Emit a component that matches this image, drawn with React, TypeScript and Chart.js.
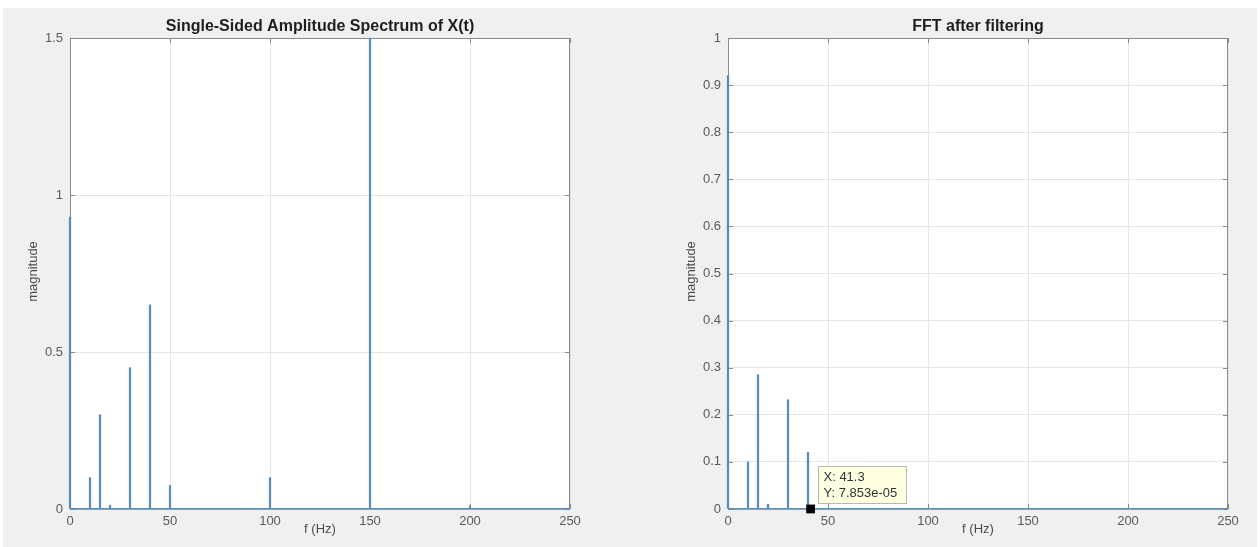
import React, { useEffect, useRef } from "react";
import { Chart, registerables } from "chart.js";

Chart.register(...registerables);

// Raw spectrum: spike frequencies (Hz) and single-sided magnitudes
const RAW_FREQ = [0, 10, 15, 20, 30, 40, 50, 100, 150, 200];
const RAW_MAG = [0.93, 0.1, 0.3, 0.012, 0.45, 0.65, 0.075, 0.1, 1.5, 0.01];

// Spectrum after the low-pass filter
const FILT_FREQ = [0, 10, 15, 20, 30, 40];
const FILT_MAG = [0.92, 0.1, 0.285, 0.01, 0.232, 0.12];

// Near-zero floor between the spikes
const FLOOR_FREQ = [0, 250];
const FLOOR_MAG = [0, 0];

// Data tip on the filtered spectrum
const TIP_X = 41.3;
const TIP_Y = 7.853e-5;

// Axis ticks
const FREQ_TICKS = [0, 50, 100, 150, 200, 250];
const RAW_MAG_TICKS = [0, 0.5, 1, 1.5];
const FILT_MAG_TICKS = [0, 0.1, 0.2, 0.3, 0.4, 0.5, 0.6, 0.7, 0.8, 0.9, 1];

const LINE_COLOR = "#5a8dba";
const FONT = "'Liberation Sans', Arial, Helvetica, sans-serif";

function fmtExp(v: number): string {
  const [m, e] = v.toExponential(3).split("e");
  const sign = e.startsWith("-") ? "-" : "+";
  const digits = e.replace(/^[+-]/, "").padStart(2, "0");
  return `${m}e${sign}${digits}`;
}

type PanelCfg = {
  title: string;
  freq: number[];
  mag: number[];
  yMax: number;
  yTicks: number[];
  yAxisWidth: number;
  padRight: number;
  tip?: { x: number; y: number };
};

function makeChart(canvas: HTMLCanvasElement, cfg: PanelCfg) {
  const framePlugin = {
    id: "frame",
    beforeDraw(chart: any) {
      const { ctx, chartArea: a } = chart;
      ctx.save();
      ctx.fillStyle = "#ffffff";
      ctx.fillRect(a.left, a.top, a.right - a.left, a.bottom - a.top);
      ctx.restore();
    },
    beforeDatasetsDraw(chart: any) {
      const { ctx, chartArea: a, scales } = chart;
      ctx.save();
      ctx.strokeStyle = "#8a8a8a";
      ctx.lineWidth = 1;
      ctx.strokeRect(a.left + 0.5, a.top + 0.5, a.right - a.left - 1, a.bottom - a.top - 1);
      const tl = 5;
      ctx.beginPath();
      FREQ_TICKS.forEach((t) => {
        const x = Math.round(scales.x.getPixelForValue(t)) + 0.5;
        ctx.moveTo(x, a.bottom);
        ctx.lineTo(x, a.bottom - tl);
        ctx.moveTo(x, a.top);
        ctx.lineTo(x, a.top + tl);
      });
      cfg.yTicks.forEach((t) => {
        const y = Math.round(scales.y.getPixelForValue(t)) + 0.5;
        ctx.moveTo(a.left, y);
        ctx.lineTo(a.left + tl, y);
        ctx.moveTo(a.right, y);
        ctx.lineTo(a.right - tl, y);
      });
      ctx.stroke();
      ctx.restore();
    },
    afterDraw(chart: any) {
      const { ctx, chartArea: a, scales } = chart;
      ctx.save();
      // titles
      ctx.fillStyle = "#1e1e1e";
      ctx.font = `bold 16px ${FONT}`;
      ctx.textAlign = "center";
      ctx.textBaseline = "middle";
      ctx.fillText(cfg.title, (a.left + a.right) / 2, 27);
      ctx.fillStyle = "#4a4a4a";
      ctx.font = `13px ${FONT}`;
      ctx.fillText("f (Hz)", (a.left + a.right) / 2, 529);
      ctx.translate(a.left - 37, (a.top + a.bottom) / 2 - 2);
      ctx.rotate(-Math.PI / 2);
      ctx.fillText("magnitude", 0, 0);
      ctx.restore();

      if (cfg.tip) {
        const px = scales.x.getPixelForValue(cfg.tip.x);
        const py = scales.y.getPixelForValue(cfg.tip.y);
        const bx = Math.round(px + 7) + 0.5;
        const by = Math.round(py - 43) + 0.5;
        const bw = 88;
        const bh = 37;
        ctx.save();
        ctx.fillStyle = "#ffffe1";
        ctx.strokeStyle = "#b9b9a8";
        ctx.lineWidth = 1;
        ctx.fillRect(bx, by, bw, bh);
        ctx.strokeRect(bx, by, bw, bh);
        ctx.fillStyle = "#333333";
        ctx.font = `13px ${FONT}`;
        ctx.textAlign = "left";
        ctx.textBaseline = "middle";
        ctx.fillText(`X: ${cfg.tip.x}`, bx + 5, by + 11);
        ctx.fillText(`Y: ${fmtExp(cfg.tip.y)}`, bx + 5, by + 27);
        ctx.restore();
      }
    },
  };

  const datasets: any[] = [
    {
      type: "line",
      data: FLOOR_FREQ.map((f, i) => ({ x: f, y: FLOOR_MAG[i] })),
      borderColor: LINE_COLOR,
      borderWidth: 1.5,
      pointRadius: 0,
      clip: false,
      order: 2,
    },
    {
      type: "bar",
      data: cfg.freq.map((f, i) => ({ x: f, y: cfg.mag[i] })),
      backgroundColor: LINE_COLOR,
      borderWidth: 0,
      barThickness: 1.6,
      clip: false,
      order: 1,
    },
  ];
  if (cfg.tip) {
    datasets.push({
      type: "scatter",
      data: [{ x: cfg.tip.x, y: cfg.tip.y }],
      pointStyle: "rect",
      pointRadius: 6.2,
      backgroundColor: "#000000",
      borderColor: "#000000",
      borderWidth: 0,
      clip: false,
      order: 0,
    });
  }

  return new Chart(canvas, {
    type: "bar",
    data: { datasets },
    options: {
      animation: false,
      responsive: false,
      devicePixelRatio: 1,
      events: [],
      layout: { padding: { left: 0, right: cfg.padRight, top: 38, bottom: 0 } },
      plugins: { legend: { display: false }, tooltip: { enabled: false }, title: { display: false } },
      scales: {
        x: {
          type: "linear",
          min: 0,
          max: 250,
          offset: false,
          afterFit: (s: any) => {
            s.height = 38;
          },
          afterBuildTicks: (s: any) => {
            s.ticks = FREQ_TICKS.map((v) => ({ value: v }));
          },
          grid: { color: "#e6e6e6", drawTicks: false, offset: false },
          border: { display: false },
          ticks: {
            padding: 5,
            color: "#5a5a5a",
            font: { family: FONT, size: 13 },
            maxRotation: 0,
          },
        },
        y: {
          type: "linear",
          min: 0,
          max: cfg.yMax,
          afterFit: (s: any) => {
            s.width = cfg.yAxisWidth;
          },
          afterBuildTicks: (s: any) => {
            s.ticks = cfg.yTicks.map((v) => ({ value: v }));
          },
          grid: { color: "#e6e6e6", drawTicks: false },
          border: { display: false },
          ticks: {
            padding: 7,
            color: "#5a5a5a",
            font: { family: FONT, size: 13 },
            callback: (v: any) => String(Math.round(Number(v) * 10) / 10),
          },
        },
      },
    } as any,
    plugins: [framePlugin],
  });
}

function Panel({ cfg, left }: { cfg: PanelCfg; left: number }) {
  const ref = useRef<HTMLCanvasElement>(null);
  useEffect(() => {
    if (!ref.current) return;
    const chart = makeChart(ref.current, cfg);
    return () => chart.destroy();
  }, []);
  return (
    <canvas
      ref={ref}
      width={630}
      height={547}
      style={{ position: "absolute", left, top: 0, width: 630, height: 547 }}
    />
  );
}

export default function App() {
  const rawCfg: PanelCfg = {
    title: "Single-Sided Amplitude Spectrum of X(t)",
    freq: RAW_FREQ,
    mag: RAW_MAG,
    yMax: 1.5,
    yTicks: RAW_MAG_TICKS,
    yAxisWidth: 70,
    padRight: 60,
  };
  const filtCfg: PanelCfg = {
    title: "FFT after filtering",
    freq: FILT_FREQ,
    mag: FILT_MAG,
    yMax: 1,
    yTicks: FILT_MAG_TICKS,
    yAxisWidth: 98,
    padRight: 32,
    tip: { x: TIP_X, y: TIP_Y },
  };
  return (
    <div
      style={{
        position: "fixed",
        left: 0,
        top: 0,
        width: 1260,
        height: 547,
        background: "#ffffff",
        overflow: "hidden",
      }}
    >
      <div
        style={{
          position: "absolute",
          left: 3,
          top: 8,
          width: 1254,
          height: 539,
          background: "#f0f0f0",
        }}
      />
      <Panel cfg={rawCfg} left={0} />
      <Panel cfg={filtCfg} left={630} />
    </div>
  );
}
